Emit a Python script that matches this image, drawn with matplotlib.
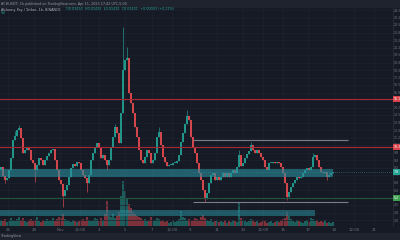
import numpy as np
import matplotlib
matplotlib.use('agg')
import matplotlib.pyplot as plt
import matplotlib.transforms as mtrans
from matplotlib.patches import Rectangle

# closing prices, one candle per bar
closes = [8.3, 7.4, 7.0, 7.2, 8.0, 9.2, 11.0, 11.4, 12.0, 12.2,
          11.2, 9.7, 10.0, 10.2, 10.0, 9.0, 8.7, 8.0, 8.5, 9.2,
          9.0, 8.5, 9.0, 9.4, 9.7, 10.0, 10.1, 9.0, 8.0, 7.0,
          6.6, 5.4, 6.0, 6.5, 7.3, 8.2, 8.6, 8.4, 8.8, 8.7,
          8.0, 7.5, 7.2, 6.7, 7.5, 9.0, 9.7, 10.3, 10.7, 10.3,
          9.2, 9.5, 9.0, 8.5, 9.0, 10.3, 11.3, 12.3, 11.7, 10.7,
          13.7, 18.0, 19.0, 19.2, 15.7, 14.7, 13.7, 12.3, 11.3, 10.0,
          9.0, 8.7, 9.3, 10.0, 9.7, 8.7, 9.0, 9.7, 11.3, 11.8,
          10.5, 9.3, 8.8, 8.4, 8.5, 8.5, 8.7, 8.7, 8.9, 9.5,
          10.8, 11.7, 12.6, 13.4, 13.0, 11.3, 10.3, 9.7, 8.7, 7.7,
          7.0, 6.0, 5.1, 5.7, 6.7, 7.5, 7.7, 7.0, 7.3, 7.0,
          7.3, 7.7, 7.3, 7.7, 7.3, 7.7, 8.0, 7.7, 8.3, 9.5,
          8.4, 8.7, 9.2, 9.6, 9.9, 10.5, 10.0, 9.7, 10.0, 9.7,
          9.3, 9.0, 8.3, 8.0, 8.7, 8.7, 8.8, 8.7, 8.8, 8.7,
          8.3, 7.7, 6.7, 5.3, 5.8, 6.3, 6.7, 7.0, 7.3, 7.2,
          7.3, 7.7, 8.0, 8.2, 8.0, 8.3, 9.3, 9.5, 9.0, 8.3,
          7.8, 7.7, 7.8, 7.3, 7.5, 7.7, 7.8]
first_open = 8.0
# notable wicks: candle index -> extreme price
high_wicks = {7: 11.9, 9: 12.5, 57: 12.6, 61: 22.3, 63: 20.3, 79: 12.3,
              93: 14.0, 119: 10.0, 125: 10.8, 156: 9.7}
low_wicks = {2: 6.7, 17: 6.8, 31: 4.3, 43: 5.8, 53: 8.0, 102: 4.8,
             143: 5.0, 163: 7.0}
volumes = [6, 5, 7, 4, 5, 8, 6, 5, 7, 9,
           6, 8, 5, 4, 6, 7, 5, 6, 9, 5,
           4, 6, 5, 7, 5, 6, 8, 5, 7, 9,
           8, 12, 7, 6, 5, 4, 6, 5, 4, 5,
           6, 7, 5, 9, 6, 5, 6, 8, 7, 5,
           8, 6, 12, 25, 10, 9, 12, 8, 10, 14,
           30, 45, 35, 28, 22, 18, 14, 12, 10, 9,
           8, 6, 7, 5, 6, 9, 5, 6, 8, 7,
           5, 6, 4, 5, 3, 4, 6, 4, 5, 7,
           15, 9, 8, 6, 7, 5, 6, 8, 7, 6,
           9, 11, 8, 6, 5, 7, 4, 5, 6, 4,
           5, 4, 6, 3, 5, 4, 6, 5, 4, 24,
           8, 6, 5, 4, 5, 7, 6, 4, 5, 3,
           4, 6, 5, 3, 4, 5, 3, 4, 5, 4,
           6, 7, 8, 14, 10, 7, 5, 4, 6, 5,
           4, 3, 5, 6, 4, 8, 7, 5, 6, 4,
           5, 4, 6, 3, 4, 3, 4]

date_pos = [3.5, 16.5, 29.5, 39.5, 49, 62, 75.5, 85.5, 94.5, 108, 121,
            131, 141, 153.5, 166.5, 176.5, 186.5]
date_labels = ['26', '28', 'Nov', '12:00', '3', '5', '7', '12:00', '9', '11',
               '13', '12:00', '15', '17', '19', '12:00', '21']

resist_hi = 15.1
resist_lo = 10.3
support = 5.2
range_top = 11.0
range_bot = 4.8
zone = (7.3, 8.1)
vol_zone = (3.4, 4.0)

BG = '#161a25'
UP = '#22958b'
DN = '#d2464c'
GRID = '#1e2230'
TXT = '#6f737e'

closes = np.array(closes)
opens = np.concatenate([[first_open], closes[:-1]])
highs = np.maximum(opens, closes)
lows = np.minimum(opens, closes)
for i, v in high_wicks.items():
    highs[i] = v
for i, v in low_wicks.items():
    lows[i] = v
idx = np.arange(len(closes))
colors = np.where(closes >= opens, UP, DN)

fig = plt.figure(figsize=(4, 2.4), dpi=100, facecolor=BG)
fig.patches.append(Rectangle((0, 233 / 240), 1, 7 / 240, transform=fig.transFigure,
                             color='#1f232e', zorder=0))
fig.patches.append(Rectangle((0, 0), 1, 7 / 240, transform=fig.transFigure,
                             color='#1f232e', zorder=0))

ax = fig.add_axes([0, 14 / 240, 393 / 400, 219 / 240])
ax.set_xlim(-0.5, 196)
ax.set_ylim(2.4, 24.3)

# volume overlay, drawn behind the candles
axv = ax.twinx()
axv.set_ylim(0, 219)
axv.patch.set_visible(True)
axv.patch.set_facecolor(BG)
axv.bar(idx, volumes, width=0.7, color=colors, alpha=0.55, linewidth=0)
axv.set_yticks([])
for s in axv.spines.values():
    s.set_visible(False)
ax.set_zorder(axv.get_zorder() + 1)
ax.patch.set_visible(False)

# candles
ax.vlines(idx, lows, highs, colors=colors, linewidth=0.5, zorder=3)
body = np.maximum(np.abs(closes - opens), 0.12)
ax.bar(idx, body, bottom=np.minimum(opens, closes), width=0.6,
       color=colors, linewidth=0, zorder=3)

# drawings
ax.axhline(resist_hi, color='#a82a36', linewidth=0.8, zorder=4)
ax.axhline(resist_lo, color='#a82a36', linewidth=0.8, zorder=4)
ax.axhline(support, color='#22553a', linewidth=0.8, zorder=4)
ax.hlines([range_top, range_bot], 96, 173.5, color='#7c7f89', linewidth=0.8, zorder=4)
ax.add_patch(Rectangle((-0.5, zone[0]), 166.5, zone[1] - zone[0], color='#2a8e9c',
                       alpha=0.6, linewidth=0, zorder=5))
ax.add_patch(Rectangle((-0.5, vol_zone[0]), 157.5, vol_zone[1] - vol_zone[0],
                       color='#2a8e9c', alpha=0.55, linewidth=0, zorder=5))
ax.axhline(closes[-1], xmin=96.5 / 196.5, color='#2a8e9c', linewidth=0.5,
           linestyle=(0, (1, 2)), zorder=5)

# axes styling
for name, s in ax.spines.items():
    s.set_visible(name == 'right')
ax.spines['right'].set_color('#2a2e39')
ax.spines['right'].set_linewidth(0.6)
ax.yaxis.tick_right()
ax.set_yticks(np.arange(3.0, 24.3, 0.75))
ax.yaxis.set_major_formatter(matplotlib.ticker.FormatStrFormatter('%.1f'))
ax.tick_params(axis='y', labelsize=2.3, colors=TXT, length=0, pad=0.8)
ax.set_xticks(date_pos)
ax.set_xticklabels(date_labels)
ax.tick_params(axis='x', labelsize=2.8, colors=TXT, length=0, pad=1.2)
ax.grid(True, color=GRID, linewidth=0.5)
ax.set_axisbelow(True)

# price labels on the axis
tr = mtrans.blended_transform_factory(ax.transAxes, ax.transData)
for y, c in [(resist_hi, '#d8434c'), (resist_lo, '#d8434c'),
             (closes[-1], '#23a394'), (support, '#3fa151')]:
    ax.text(1.003, y, '%.1f' % y, transform=tr, fontsize=2.3, color='white',
            va='center', ha='left', clip_on=False, zorder=6,
            bbox=dict(boxstyle='square,pad=0.3', fc=c, ec='none'))

# header / footer text
fig.text(0.003, 236.5 / 240, 'ACHUSDT, 1h published on TradingView.com, Apr 11, 2023 17:42 UTC-5:00',
         fontsize=2.4, color='#9598a1', va='center')
fig.text(0.003, 230.5 / 240, 'Alchemy Pay / Tether, 1h, BINANCE',
         fontsize=2.4, color='#b2b5be', va='center')
fig.text(0.165, 230.5 / 240, 'O0.01430  H0.01435  L0.01410  C0.01431  +0.00003 (+0.21%)',
         fontsize=2.4, color='#26a69a', va='center')
fig.text(0.003, 226.5 / 240, 'Vol',
         fontsize=2.4, color='#26a69a', va='center')
fig.text(0.003, 3.5 / 240, 'TradingView', fontsize=2.4, color='#9598a1', va='center')

fig.savefig('out.png', dpi=100, facecolor=BG)
